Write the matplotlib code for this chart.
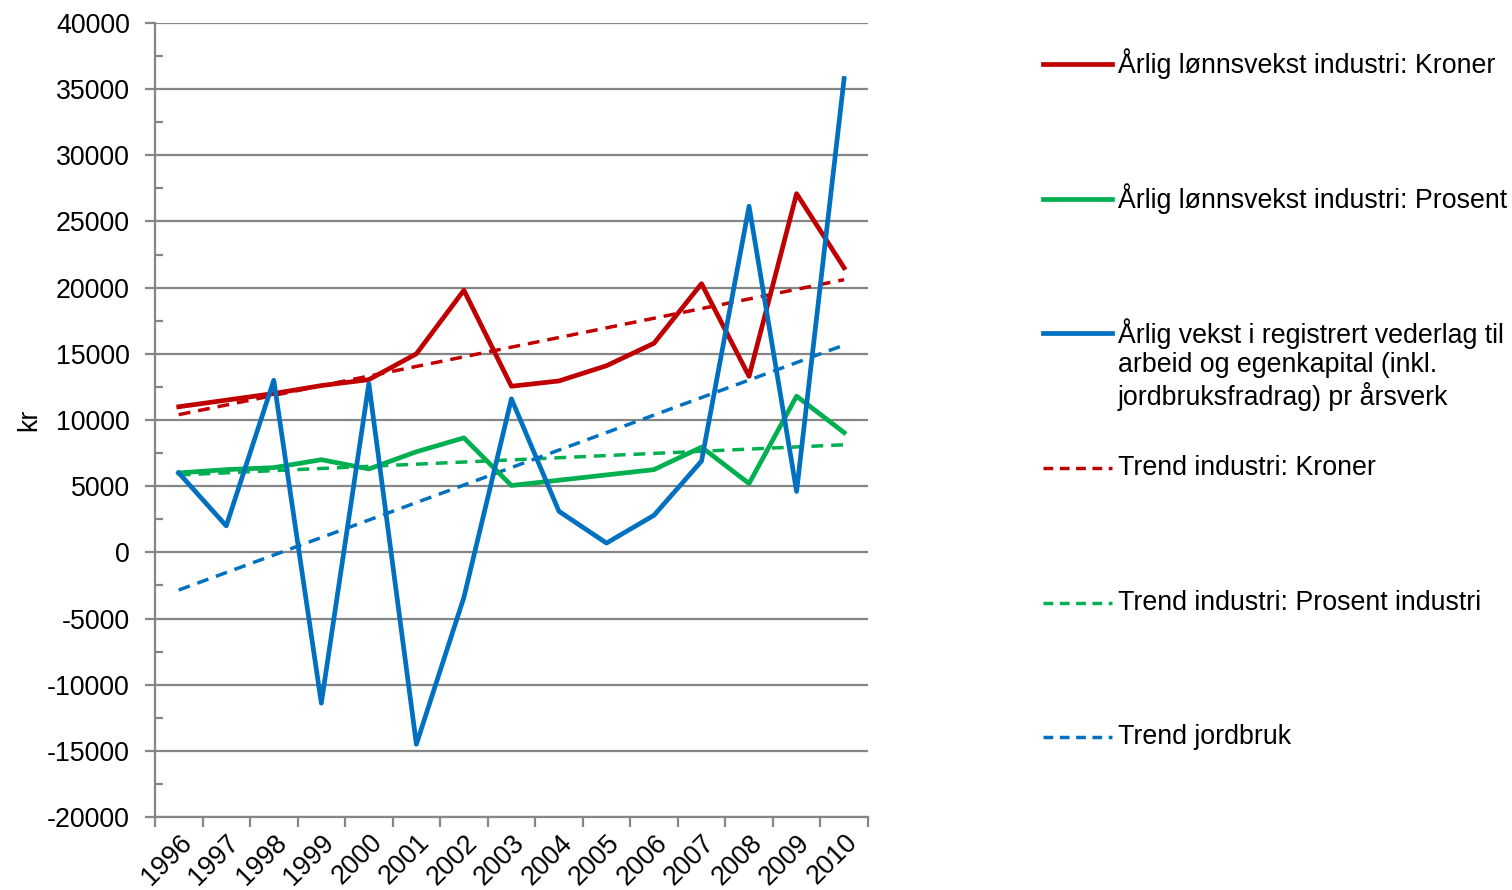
import numpy as np
import matplotlib
matplotlib.use('Agg')
import matplotlib.pyplot as plt
from matplotlib.lines import Line2D
from matplotlib.ticker import MultipleLocator, FixedLocator, NullFormatter

plt.rcParams['font.family'] = ['Liberation Sans', 'DejaVu Sans']
plt.rcParams['axes.unicode_minus'] = False

# data
years = ['1996', '1997', '1998', '1999', '2000', '2001', '2002', '2003',
         '2004', '2005', '2006', '2007', '2008', '2009', '2010']
kroner = [11000, 11500, 12000, 12600, 13050, 15000, 19800, 12550,
          12950, 14100, 15800, 20300, 13300, 27100, 21500]
prosent = [6000, 6250, 6400, 7000, 6300, 7600, 8650, 5050,
           5450, 5850, 6250, 7950, 5200, 11800, 9050]
jordbruk = [6000, 2000, 13000, -11400, 12750, -14500, -3400, 11600,
            3100, 700, 2800, 6900, 26150, 4600, 35800]

labels = ['Årlig lønnsvekst industri: Kroner',
          'Årlig lønnsvekst industri: Prosent',
          'Årlig vekst i registrert vederlag til\narbeid og egenkapital (inkl.\njordbruksfradrag) pr årsverk',
          'Trend industri: Kroner',
          'Trend industri: Prosent industri',
          'Trend jordbruk']

red = '#C00000'
green = '#00B050'
blue = '#0070C0'
grid = '#868686'
fs = 19.3

fig = plt.figure(figsize=(15.12, 8.9), dpi=100)
ax = fig.add_axes([0.1025, 0.082, 0.4715, 0.8922])

x = np.arange(len(years))
solid_lw = 3.4
dash_lw = 2.5
dash = (3.4, 2.3)

ax.plot(x, kroner, color=red, lw=solid_lw, zorder=4)
ax.plot(x, prosent, color=green, lw=solid_lw, zorder=4)
ax.plot(x, jordbruk, color=blue, lw=solid_lw, zorder=4)

# linear trend lines (as in the original spreadsheet)
for series, col in [(kroner, red), (prosent, green), (jordbruk, blue)]:
    k, m = np.polyfit(x, series, 1)
    ax.plot(x, k * x + m, color=col, lw=dash_lw, dashes=dash, zorder=3)

ax.set_xlim(-0.5, len(years) - 0.5)
ax.set_ylim(-20000, 40000)
ax.yaxis.set_major_locator(MultipleLocator(5000))
ax.yaxis.set_minor_locator(MultipleLocator(2500))
ax.grid(axis='y', which='major', color=grid, lw=1.6, zorder=1)

ax.xaxis.set_major_locator(FixedLocator(np.arange(-0.5, len(years), 1.0)))
ax.xaxis.set_major_formatter(NullFormatter())
ax.set_xticks(x, minor=True)
ax.set_xticklabels(years, minor=True, rotation=45, ha='right', va='top',
                   rotation_mode='anchor', fontsize=fs)
ax.tick_params(axis='x', which='major', direction='out', length=7, width=1.6, color=grid)
ax.tick_params(axis='x', which='minor', length=0, pad=9)
ax.tick_params(axis='y', which='major', direction='out', length=7, width=1.6, color=grid,
               labelsize=fs, pad=11)
ax.tick_params(axis='y', which='minor', direction='in', length=6, width=1.6, color=grid)

for side in ['top', 'right']:
    ax.spines[side].set_visible(False)
for side in ['left', 'bottom']:
    ax.spines[side].set_color(grid)
    ax.spines[side].set_linewidth(1.6)

ax.set_ylabel('kr', fontsize=fs)
ax.yaxis.set_label_coords(-0.158, 0.5)

# legend drawn by hand, spread out like the original
W, H = 1512.0, 890.0
entries = [
    (labels[0], red, '-', 64),
    (labels[1], green, '-', 199),
    (labels[2], blue, '-', 333),
    (labels[3], red, '--', 468),
    (labels[4], green, '--', 603),
    (labels[5], blue, '--', 737),
]
for text, col, ls, ly in entries:
    if ls == '-':
        ln = Line2D([1043 / W, 1112 / W], [1 - ly / H, 1 - ly / H], color=col, lw=solid_lw,
                    transform=fig.transFigure)
    else:
        ln = Line2D([1043 / W, 1112 / W], [1 - ly / H, 1 - ly / H], color=col, lw=dash_lw,
                    dashes=(2.8, 1.9), transform=fig.transFigure)
    fig.add_artist(ln)
    if '\n' in text:
        fig.text(1118 / W, 1 - (ly - 15) / H, text, fontsize=fs, va='top', ha='left',
                 linespacing=1.17)
    else:
        fig.text(1118 / W, 1 - ly / H, text, fontsize=fs, va='center', ha='left')

fig.savefig('out.png', dpi=100)
